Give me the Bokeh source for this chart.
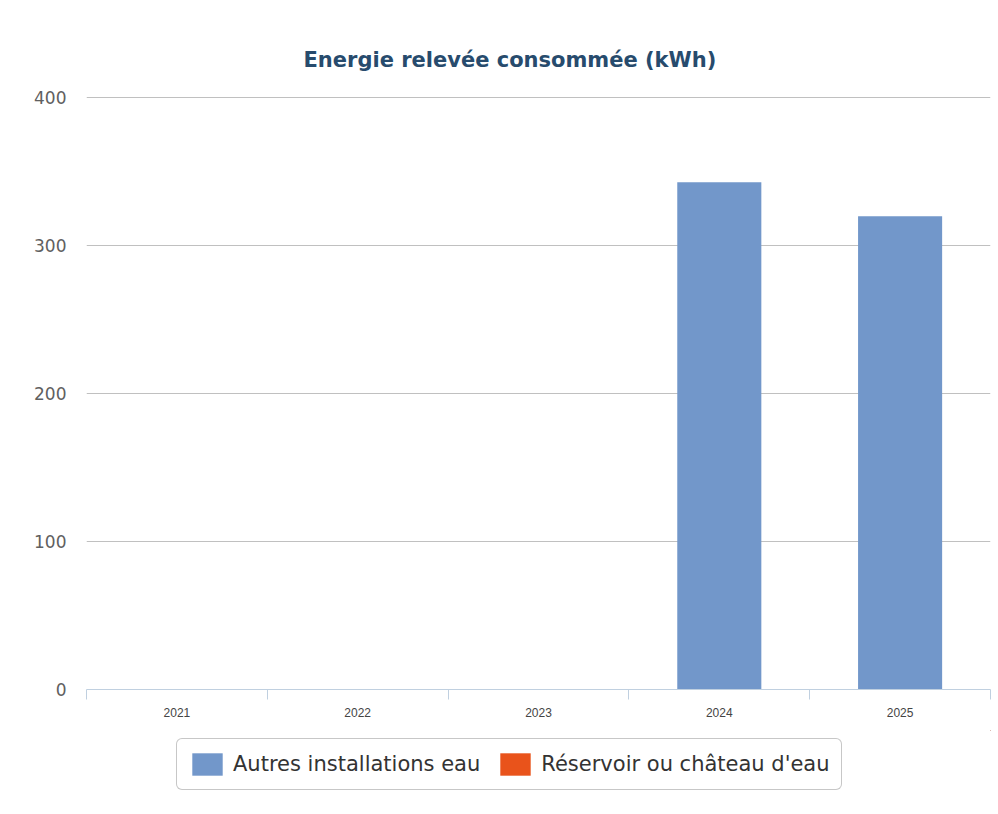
from bokeh.plotting import figure
from bokeh.layouts import column
from bokeh.models import (Range1d, FixedTicker, Legend, LegendItem, ColumnDataSource,
                          CustomJSTickFormatter)
from bokeh.embed import file_html
from bokeh.resources import INLINE

# ---- data ----
years = ["2021", "2022", "2023", "2024", "2025"]
autres = [0, 0, 0, 343, 320]
reservoir = [0, 0, 0, 0, 0]
series_names = ["Autres installations eau", "Réservoir ou château d'eau"]
y_ticks = [0, 100, 200, 300, 400]
title_text = "Energie relevée consommée (kWh)"

colors = ["#7297CA", "#E9531B"]

n = len(years)
centers = [i + 0.5 for i in range(n)]
bounds = list(range(n + 1))
stack_cols = ["autres", "reservoir"]

source = ColumnDataSource(dict(x=centers, year=years, autres=autres, reservoir=reservoir))

W = 993
p = figure(x_range=Range1d(0, n),
           y_range=Range1d(y_ticks[0], y_ticks[-1] + 1),
           width=W, height=730, output_backend="svg", toolbar_location=None,
           min_border_left=86, min_border_right=3,
           min_border_top=96, min_border_bottom=41)
p.outline_line_color = None
p.background_fill_color = "white"
p.border_fill_color = "white"

# title
p.title.text = title_text
p.title.align = "left"
p.title.offset = 217
p.title.text_font = "DejaVu Sans"
p.title.text_font_style = "bold"
p.title.text_font_size = "21px"
p.title.text_color = "#274B6D"
p.title.standoff = 50

# bars
p.vbar_stack(stack_cols, x="x", width=0.465, color=colors, line_color=None, source=source)

# y axis
p.yaxis.ticker = FixedTicker(ticks=y_ticks)
p.yaxis.axis_line_color = None
p.yaxis.major_tick_line_color = None
p.yaxis.minor_tick_line_color = None
p.yaxis.major_label_standoff = 14
p.yaxis.major_label_text_font = "DejaVu Sans"
p.yaxis.major_label_text_font_size = "17px"
p.yaxis.major_label_text_color = "#606060"

p.ygrid.ticker = FixedTicker(ticks=y_ticks)
p.ygrid.grid_line_color = "#C0C0C0"
p.ygrid.grid_line_width = 1
p.xgrid.visible = False

# x axis: labels at category centres, ticks at category boundaries
xa = p.xaxis[0]
xa.ticker = FixedTicker(ticks=centers, minor_ticks=bounds)
xa.formatter = CustomJSTickFormatter(args=dict(labels=years),
                                     code="return labels[Math.floor(tick)];")
xa.axis_line_color = "#C0D0E0"
xa.major_tick_line_color = None
xa.major_tick_in = 0
xa.major_tick_out = 0
xa.minor_tick_line_color = "#C0D0E0"
xa.minor_tick_in = 0
xa.minor_tick_out = 10
xa.major_label_standoff = 8
xa.major_label_text_font = "Liberation Sans"
xa.major_label_text_font_size = "12px"
xa.major_label_text_color = "#444444"

# legend strip (separate figure below, same series drawn out of view)
lf = figure(x_range=Range1d(-20, -19), y_range=Range1d(-20, -19), width=W, height=78,
            output_backend="svg", toolbar_location=None,
            min_border_left=0, min_border_right=0, min_border_top=0, min_border_bottom=0)
lf.axis.visible = False
lf.grid.visible = False
lf.outline_line_color = None
lf.background_fill_color = "white"
lf.border_fill_color = "white"
lrs = lf.vbar_stack(stack_cols, x="x", width=0.465, color=colors, line_color=None, source=source)

items = [LegendItem(label=s, renderers=[r]) for s, r in zip(series_names, lrs)]
legend = Legend(items=items, orientation="horizontal", location=(90, 18),
                border_line_color="#909090", border_line_width=1,
                background_fill_color="white", background_fill_alpha=1,
                label_text_font="DejaVu Sans", label_text_font_size="21px",
                label_text_color="#333333", glyph_width=38, glyph_height=28,
                label_height=28, label_standoff=7, spacing=16, padding=11,
                margin=0)
if "border_radius" in Legend.properties():
    legend.border_radius = 6
lf.add_layout(legend, "center")

layout = column(p, lf, spacing=0)
open("out.html", "w").write(file_html(layout, INLINE))
